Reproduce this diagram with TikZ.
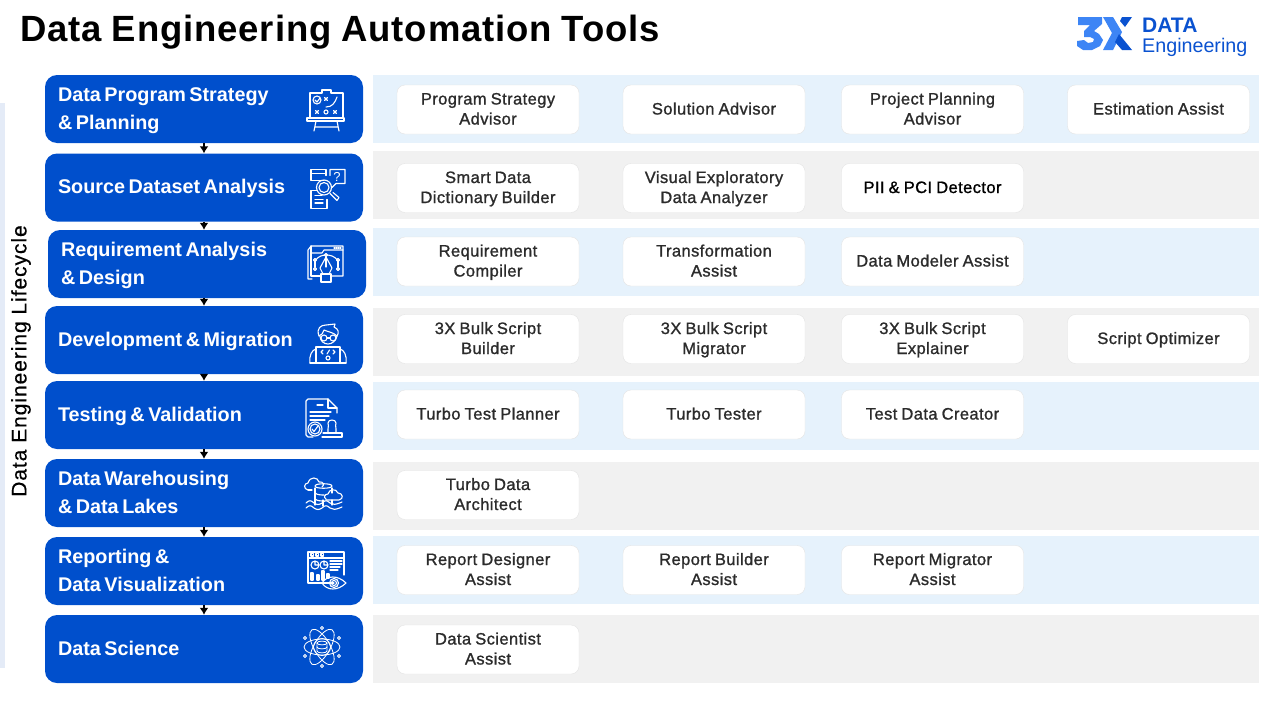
\documentclass[tikz,border=0pt]{standalone}
\usepackage{fontspec}
\setmainfont{Liberation Sans}
\newfontfamily\titlefont[LetterSpace=2.4,WordSpace=0.9]{Liberation Sans}
\newfontfamily\sidefont[LetterSpace=4.5,FakeBold=0.5]{Liberation Sans}
\newfontfamily\toolfont[LetterSpace=2.5,FakeBold=1.1]{Liberation Sans}
\usetikzlibrary{arrows.meta}
\definecolor{stageblue}{HTML}{004FCC}
\definecolor{bandblue}{HTML}{E6F2FC}
\definecolor{bandgrey}{HTML}{F1F1F1}
\definecolor{sidebar}{HTML}{E4EBF7}
\definecolor{toolline}{HTML}{E4E4E4}
\definecolor{tooltext}{HTML}{2B2B2B}
\definecolor{logolight}{HTML}{3D85F5}
\definecolor{logodark}{HTML}{0A52D0}
\tikzset{
  stage/.style={fill=stageblue, text=white, rounded corners=12pt, minimum width=318pt, minimum height=68pt,
    inner sep=0pt, text width=292pt, align=left, font=\fontsize{19.8}{28}\selectfont\bfseries,
    execute at begin node={\spaceskip=.18em\relax\rule[-8pt]{0pt}{28pt}}, execute at end node=\rule[-8pt]{0pt}{28pt}},
  band/.style={anchor=north west, inner sep=0pt, minimum width=886pt, minimum height=68pt},
  tool/.style={draw=toolline, fill=white, rounded corners=8pt, minimum width=182pt, minimum height=49pt,
    inner sep=0pt, text width=176pt, align=center, text=tooltext, font=\toolfont\fontsize{16.5}{20}\selectfont,
    execute at begin node={\spaceskip=.25em\relax\rule[-5pt]{0pt}{20pt}}, execute at end node=\rule[-5pt]{0pt}{20pt}},
  flow/.style={-{Latex[length=7pt,width=9pt]}, line width=1.5pt, black},
  iconline/.style={draw=white, line width=1.1pt, line join=round, line cap=round},
  % Little cross used on the planning board
  pics/crossmark/.style={code={\draw[iconline] (-1.6,-1.6) -- (1.6,1.6) (-1.6,1.6) -- (1.6,-1.6);}},
  % Icons, drawn round their centre
  pics/planicon/.style={code={
    \draw[iconline] (-16,6) -- (-16,-19) -- (-4,-19) -- (-4,-22) -- (5,-22) -- (5,-19) -- (17,-19) -- (17,6);
    \draw[iconline] (-19,6) rectangle (18,9);
    \draw[iconline] (-10,9) -- (-12,19) (11,9) -- (13,19) (-11,15) -- (12,15);
    \draw[iconline] (-9,-12) circle (4);
    \draw[iconline] (-11,-12) -- (-9,-10) -- (-6,-14);
    \draw[iconline] (0,-5) .. controls (6,-5) and (9,-9) .. (11,-15);
    \pic at (0,-13) {crossmark};
    \pic at (-9,0) {crossmark};
    \pic at (9,0) {crossmark};
    \draw[iconline] (0,0) circle (2);
  }},
  pics/searchicon/.style={code={
    \draw[iconline] (-4,-8) -- (-17,-8) -- (-17,-19) -- (-2,-19) -- (-2,-13);
    \draw[iconline] (-17,-15) -- (-2,-15);
    \draw[iconline] (2,-13) -- (2,-19) -- (17,-19) -- (17,-5) -- (8,-5) -- (4,-1);
    \node[text=white, inner sep=0pt, font=\fontsize{13}{13}\selectfont] (searchmark) at (9,-12) {?};
    \draw[iconline] (-4,-1) circle (7.5);
    \draw[iconline] (-4,-1) circle (5);
    \draw[iconline] (2,5) -- (5,8) -- (9,12) -- (11,9) -- (5,4);
    \draw[iconline] (-1,11) -- (-1,20) -- (-17,20) -- (-17,2) -- (-11,2);
    \draw[iconline] (-13,7) -- (-6,7) (-13,11) -- (-5,11) (-13,14.500) -- (-5,14.500);
  }},
  pics/designicon/.style={code={
    \draw[iconline] (-14,14) -- (-18,14) -- (-18,-15) -- (-15,-19) -- (17,-19) -- (17,11) -- (5,11);
    \draw[iconline] (-15,-19) -- (-15,11) -- (-6,11);
    \draw[iconline] (-15,-12) -- (-4,-12) -- (-2,-15) -- (17,-15);
    \draw[iconline, densely dotted] (8,-17) -- (15,-17);
    \draw[iconline] (-11,-4) .. controls (-8,-9) and (-3,-10) .. (0,-10) .. controls (4,-10) and (9,-9) .. (12,-4);
    \draw[iconline] (-11,-4) -- (-11,2) (12,-4) -- (12,2);
    \draw[iconline] (-11,-5) circle (1.5) (12,-5) circle (1.5) (0,-10) circle (1.5) (-11,4) circle (1.5) (12,4) circle (1.5);
    \draw[iconline] (0,-8) -- (-6,3) -- (-3,9) -- (3,9) -- (6,3) -- cycle;
    \draw[iconline] (0,-8) -- (0,2);
    \draw[iconline] (-5,9) rectangle (5,17);
  }},
  pics/codericon/.style={code={
    \draw[iconline] (-9,-8) .. controls (-12,-16) and (-7,-19) .. (-2,-19) -- (7,-20) -- (6,-17) .. controls (11,-15) and (11,-11) .. (9,-8);
    \draw[iconline] (-9,-8) .. controls (-6,-9) and (-5,-11) .. (-4,-14) .. controls (0,-12) and (5,-12) .. (9,-8);
    \draw[iconline] (-8,-8) .. controls (-8,-3) and (-4,0) .. (0,0) .. controls (4,0) and (8,-3) .. (9,-8);
    \draw[iconline] (-4,-6) circle (3) (5,-6) circle (3);
    \draw[iconline] (-1,-6) -- (2,-6);
    \draw[iconline] (-12,18) -- (-12,3) -- (12,3) -- (12,18);
    \draw[iconline] (-18,19) .. controls (-19,11) and (-16,6) .. (-12,5) (18,19) .. controls (19,11) and (16,6) .. (12,5);
    \draw[iconline] (-18,19) -- (18,19);
    \draw[iconline] (-5,6) -- (-7,8) -- (-5,10) (5,6) -- (7,8) -- (5,10) (1.500,6) -- (-1,10);
    \draw[iconline] (0,14) circle (2);
  }},
  pics/testicon/.style={code={
    \draw[iconline] (-11,19) -- (-16,19) -- (-18,17) -- (-18,-17) -- (-16,-19) -- (4,-19) -- (13,-10) -- (13,-5);
    \draw[iconline] (4,-19) -- (4,-10) -- (13,-10);
    \draw[iconline] (-7,-13) -- (-1,-13) (-14,-6) -- (7,-6) (-14,-2) -- (5,-2) (-14,2) -- (1,2);
    \draw[iconline] (-9,11) circle (7) (-9,11) circle (5);
    \draw[iconline] (-12,11) -- (-10,13.500) -- (-6,8);
    \draw[iconline] (-2,19) -- (-1,19) (-1,19) -- (18,19) -- (18,15) -- (-1,15);
    \draw[iconline] (4,15) -- (4,11) .. controls (5,8) and (4,7) .. (4,5) .. controls (4,1) and (12,1) .. (12,5) .. controls (12,7) and (11,8) .. (12,11) -- (12,15);
  }},
  pics/lakeicon/.style={code={
    \draw[iconline] (-16,-2) .. controls (-21,-3) and (-20,-9) .. (-16,-9) .. controls (-14,-16) and (-6,-15) .. (-5,-10) .. controls (-1,-11) and (1,-7) .. (-2,-5);
    \draw[iconline] (-12,-2) -- (-16,-2);
    \draw[iconline] (-9,-4) -- (-9,13) (8,-4) -- (8,1);
    \draw[iconline] (-9,-6) .. controls (-9,-9) and (8,-9) .. (8,-6) .. controls (8,-3) and (-9,-3) .. (-9,-6);
    \draw[iconline] (-9,1) .. controls (-7,3) and (-2,3) .. (0,3) (-9,7) .. controls (-7,9) and (-2,9) .. (0,9);
    \draw[iconline] (2,7) .. controls (-1,5) and (1,2) .. (4,2) .. controls (5,-3) and (12,-4) .. (14,1) .. controls (19,1) and (20,7) .. (15,8) -- (2,8);
    \draw[iconline] (-1,8) -- (-1,14) (8,8) -- (8,13);
    \draw[iconline] (-18,11) .. controls (-15,8) and (-13,8) .. (-10,11) .. controls (-7,13) and (-5,13) .. (-2,11) .. controls (1,8) and (3,8) .. (6,11) .. controls (9,13) and (11,13) .. (18,10);
    \draw[iconline] (-18,16) .. controls (-15,13) and (-13,13) .. (-10,16) .. controls (-7,18) and (-5,18) .. (-2,16) .. controls (1,13) and (3,13) .. (6,16) .. controls (9,18) and (11,18) .. (18,15);
  }},
  pics/reporticon/.style={code={
    \draw[iconline] (8,12) -- (-18,12) -- (-18,-19) -- (18,-19) -- (18,4);
    \draw[iconline] (-18,-13) -- (18,-13);
    \draw[iconline] (-15,-17.500) rectangle (-12.500,-15) (-10,-17.500) rectangle (-7.500,-15) (-5,-17.500) rectangle (-2.500,-15);
    \draw[iconline] (-11,-6) circle (4) (-11,-6) -- (-11,-10) (-11,-6) -- (-7,-6);
    \draw[iconline] (-2,-6) circle (4) (-2,-6) -- (-2,-10) (-2,-6) -- (2,-6);
    \draw[iconline] (4,-10) -- (16,-10) (4,-7) -- (16,-7) (4,-4) -- (14,-4) (4,-1) -- (12,-1);
    \draw[iconline] (-15,2) rectangle (-13,9) (-9,4) rectangle (-7,9) (-4,0) rectangle (-2,9) (1,3) rectangle (3,7);
    \draw[iconline] (-4,12) .. controls (1,4) and (12,4) .. (20,12) .. controls (12,20) and (1,20) .. (-4,12);
    \draw[iconline] (8,12) circle (4.500) (8,12) circle (2.500);
  }},
  pics/scienceicon/.style={code={
    \draw[iconline, line width=0.8pt] (0,0) ellipse (18 and 8);
    \draw[iconline, line width=0.8pt, rotate=60] (0,0) ellipse (20 and 8);
    \draw[iconline, line width=0.8pt, rotate=-60] (0,0) ellipse (20 and 8);
    \draw[iconline, line width=0.8pt] (0,0) circle (8.500);
    \draw[iconline, line width=0.8pt] (-5,-4) -- (-5,4) .. controls (-5,6.500) and (5,6.500) .. (5,4) -- (5,-4);
    \draw[iconline, line width=0.8pt] (-5,-4) .. controls (-5,-6.500) and (5,-6.500) .. (5,-4) .. controls (5,-1.500) and (-5,-1.500) .. (-5,-4);
    \draw[iconline, line width=0.8pt] (-5,0) .. controls (-5,2.500) and (5,2.500) .. (5,0);
    \draw[iconline, line width=0.8pt] (0,-19) circle (1.500) (0,19) circle (1.500) (-17,-9) circle (1.500) (17,9) circle (1.500) (-17,9) circle (1.500) (17,-9) circle (1.500);
  }},
}
\begin{document}
\begin{tikzpicture}[x=1pt, y=-1pt]
\useasboundingbox (0,0) rectangle (1280,720);

% Title and logo
\node[anchor=west, inner sep=0pt, font=\titlefont\fontsize{36.5}{36}\selectfont\bfseries] (title) at (20,32) {Data Engineering Automation Tools};
\fill[logolight] (1078,17) -- (1102,17) -- (1102,24) -- (1094,31) -- (1099,34) -- (1103,40) -- (1100,46) -- (1092,50) -- (1083,50) -- (1077,46) -- (1077,41) -- (1084,40) -- (1088,43) -- (1093,42) -- (1094,39) -- (1090,37) -- (1084,37) -- (1084,31) -- (1090,25) -- (1078,25) -- cycle;
\fill[logolight] (1103,17) -- (1113,17) -- (1122,32) -- (1113,50) -- (1103,50) -- (1112,33) -- cycle;
\fill[logodark] (1122,17) -- (1132,17) -- (1125,27) -- (1120,21) -- cycle;
\fill[logodark] (1119,34) -- (1132,50) -- (1122,50) -- (1115,42) -- cycle;
\node[anchor=west, inner sep=0pt, text=logodark, font=\fontsize{21}{21}\selectfont\bfseries] (logodata) at (1142,25) {DATA};
\node[anchor=west, inner sep=0pt, text=logodark, font=\fontsize{19.7}{20}\selectfont] (logoname) at (1142,47) {Engineering};

% Lifecycle side bar
\fill[sidebar] (0,103) rectangle (5,668);
\node[rotate=90, inner sep=0pt, font=\sidefont\fontsize{21}{21}\selectfont] (lifecycle) at (21,361) {Data Engineering Lifecycle};

% Background bands
\node[band, fill=bandblue] (bandplan) at (373,75) {};
\node[band, fill=bandgrey] (bandsource) at (373,151) {};
\node[band, fill=bandblue] (bandreq) at (373,228) {};
\node[band, fill=bandgrey] (banddev) at (373,308) {};
\node[band, fill=bandblue] (bandtest) at (373,382) {};
\node[band, fill=bandgrey] (bandlake) at (373,462) {};
\node[band, fill=bandblue] (bandreport) at (373,536) {};
\node[band, fill=bandgrey] (bandscience) at (373,615) {};

% Lifecycle stages
\node[stage] (plan) at (204,109) {Data Program Strategy\\\& Planning};
\node[stage] (source) at (204,187.500) {Source Dataset Analysis};
\node[stage] (req) at (207,264) {Requirement Analysis\\\& Design};
\node[stage] (dev) at (204,340) {Development \& Migration};
\node[stage] (test) at (204,415) {Testing \& Validation};
\node[stage] (lake) at (204,493) {Data Warehousing\\\& Data Lakes};
\node[stage] (report) at (204,571) {Reporting \&\\Data Visualization};
\node[stage] (science) at (204,649) {Data Science};

% Arrows between the stages
\draw[flow] (plan.south) -- (source.north);
\draw[flow] (source.south) -- (source.south |- req.north);
\draw[flow] (req.south -| dev.south) -- (dev.north);
\draw[flow] (dev.south) -- (test.north);
\draw[flow] (test.south) -- (lake.north);
\draw[flow] (lake.south) -- (report.north);
\draw[flow] (report.south) -- (science.north);

% Stage icons
\pic at (326,112) {planicon};
\pic at (328,188.500) {searchicon};
\pic at (326,265) {designicon};
\pic at (328,344) {codericon};
\pic at (324,418) {testicon};
\pic at (324,492) {lakeicon};
\pic at (326,571) {reporticon};
\pic at (322,647) {scienceicon};

% Tools
\node[tool] (strategy) at (488,109.500) {Program Strategy\\Advisor};
\node[tool] (solution) at (714,109.500) {Solution Advisor};
\node[tool] (planning) at (932.500,109.500) {Project Planning\\Advisor};
\node[tool] (estimation) at (1158.500,109.500) {Estimation Assist};

\node[tool] (dictionary) at (488,188) {Smart Data\\Dictionary Builder};
\node[tool] (explorer) at (714,188) {Visual Exploratory\\Data Analyzer};
\node[tool, text=black] (detector) at (932.500,188) {PII \& PCI Detector};

\node[tool] (compiler) at (488,261.500) {Requirement\\Compiler};
\node[tool] (transform) at (714,261.500) {Transformation\\Assist};
\node[tool] (modeler) at (932.500,261.500) {Data Modeler Assist};

\node[tool] (builder) at (488,339) {3X Bulk Script\\Builder};
\node[tool] (migrator) at (714,339) {3X Bulk Script\\Migrator};
\node[tool] (explainer) at (932.500,339) {3X Bulk Script\\Explainer};
\node[tool] (optimizer) at (1158.500,339) {Script Optimizer};

\node[tool] (testplanner) at (488,414.500) {Turbo Test Planner};
\node[tool] (tester) at (714,414.500) {Turbo Tester};
\node[tool] (datacreator) at (932.500,414.500) {Test Data Creator};

\node[tool] (architect) at (488,495) {Turbo Data\\Architect};

\node[tool] (designer) at (488,570) {Report Designer\\Assist};
\node[tool] (rbuilder) at (714,570) {Report Builder\\Assist};
\node[tool] (rmigrator) at (932.500,570) {Report Migrator\\Assist};

\node[tool] (scientist) at (488,649.500) {Data Scientist\\Assist};
\end{tikzpicture}
\end{document}
